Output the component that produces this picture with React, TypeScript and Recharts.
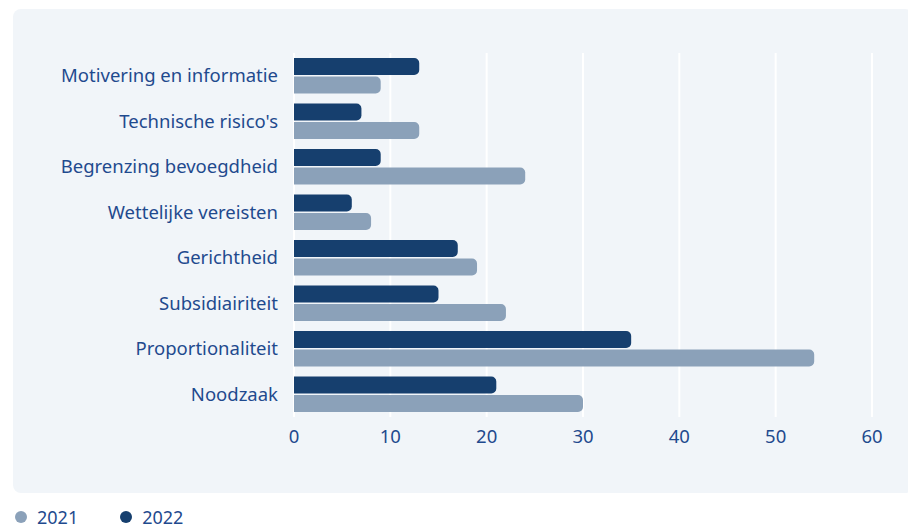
import React from 'react';
import { BarChart, Bar, XAxis, YAxis, CartesianGrid } from 'recharts';

const categories = [
  'Motivering en informatie',
  "Technische risico's",
  'Begrenzing bevoegdheid',
  'Wettelijke vereisten',
  'Gerichtheid',
  'Subsidiairiteit',
  'Proportionaliteit',
  'Noodzaak',
];
const values2021 = [9, 13, 24, 8, 19, 22, 54, 30];
const values2022 = [13, 7, 9, 6, 17, 15, 35, 21];
const xTicks = [0, 10, 20, 30, 40, 50, 60];

const data = categories.map((name, i) => ({ name, y2021: values2021[i], y2022: values2022[i] }));

const TEXT = '#1f4a8e';
const DARK = '#163f6e';
const LIGHT = '#8ba1b9';
const FONT = '"Noto Sans", "Open Sans", sans-serif';

export default function App() {
  return (
    <div style={{ position: 'absolute', left: 0, top: 0, width: 908, height: 530, background: '#fff', fontFamily: FONT, overflow: 'hidden' }}>
      <div style={{ position: 'absolute', left: 13, top: 9, width: 900, height: 484, background: '#f1f5f9', borderRadius: 8 }} />
      <div style={{ position: 'absolute', left: 0, top: 0 }}>
        <BarChart
          width={908}
          height={480}
          data={data}
          layout="vertical"
          margin={{ top: 53, right: 36, left: 0, bottom: 33 }}
          barCategoryGap={5}
          barGap={1.5}
        >
          <CartesianGrid horizontal={false} stroke="#ffffff" strokeWidth={2} />
          <XAxis
            type="number"
            domain={[0, 60]}
            ticks={xTicks}
            axisLine={false}
            tickLine={false}
            tickSize={0}
            tickMargin={13}
            tick={{ fill: TEXT, fontSize: 18.5, fontFamily: FONT }}
            height={30}
          />
          <YAxis
            type="category"
            dataKey="name"
            width={294}
            axisLine={false}
            tickLine={false}
            tickSize={0}
            tickMargin={16}
            interval={0}
            tick={{ fill: TEXT, fontSize: 18.5, fontFamily: FONT }}
          />
          <Bar dataKey="y2022" fill={DARK} barSize={17} radius={[0, 5, 5, 0]} isAnimationActive={false} />
          <Bar dataKey="y2021" fill={LIGHT} barSize={17} radius={[0, 5, 5, 0]} isAnimationActive={false} />
        </BarChart>
      </div>
      <div style={{ position: 'absolute', left: 15, top: 507, height: 20, lineHeight: '20px', display: 'flex', alignItems: 'center', fontSize: 18, color: TEXT }}>
        <span style={{ width: 12, height: 12, borderRadius: 6, background: LIGHT, display: 'inline-block' }} />
        <span style={{ marginLeft: 10 }}>2021</span>
        <span style={{ width: 12, height: 12, borderRadius: 6, background: DARK, display: 'inline-block', marginLeft: 42 }} />
        <span style={{ marginLeft: 10 }}>2022</span>
      </div>
    </div>
  );
}
